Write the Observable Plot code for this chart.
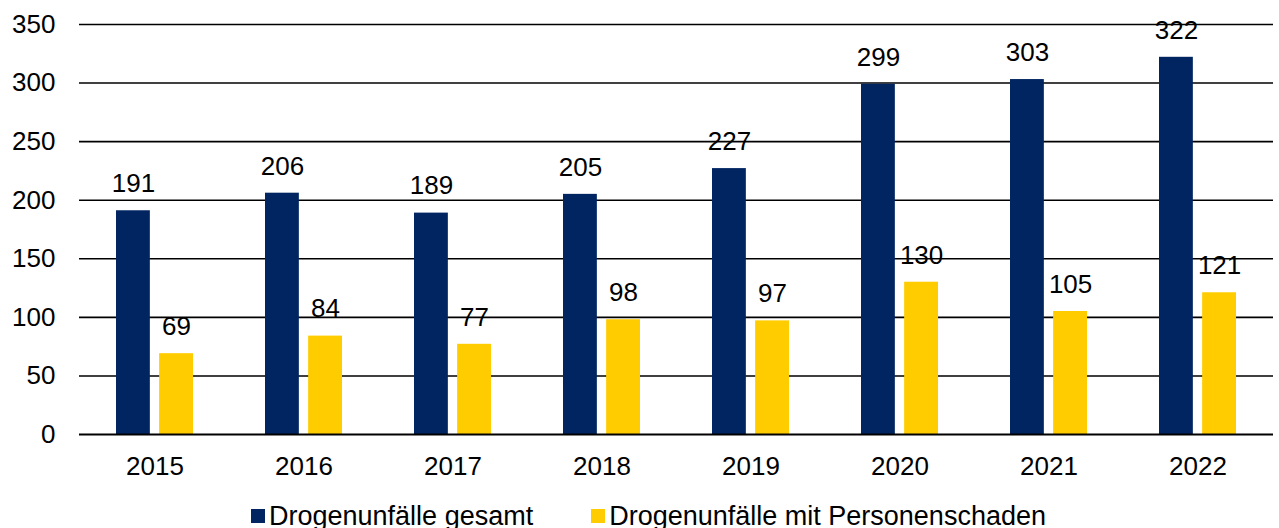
<!DOCTYPE html>
<html><head><meta charset="utf-8">
<script src="https://cdn.jsdelivr.net/npm/d3@7"></script>
<script src="https://cdn.jsdelivr.net/npm/@observablehq/plot@0.6"></script>
<style>
html,body{margin:0;padding:0;background:#fff;font-family:"Liberation Sans",Arial,sans-serif;}
#legend{display:flex;justify-content:center;align-items:center;height:36px;margin-top:6px;padding-left:18px;font-size:27px;color:#000;white-space:nowrap;}
.item{display:flex;align-items:center;margin:0 29px;}
.sw{width:14px;height:14px;margin-right:4px;}
</style></head><body><div id="chart"></div><div id="legend"></div>
<script>
const years = ["2015","2016","2017","2018","2019","2020","2021","2022"];
const gesamt = [191, 206, 189, 205, 227, 299, 303, 322];
const personenschaden = [69, 84, 77, 98, 97, 130, 105, 121];
const seriesNames = ["Drogenunfälle gesamt", "Drogenunfälle mit Personenschaden"];
const seriesColors = ["#002561", "#ffcc00"];
const yTicks = [0, 50, 100, 150, 200, 250, 300, 350];

const rowsG = years.map((y, i) => ({year: y, value: gesamt[i]}));
const rowsP = years.map((y, i) => ({year: y, value: personenschaden[i]}));

const W = 1279, mL = 79, mR = 6;
const step = (W - mL - mR) / years.length;
const band = step * 0.52;
const barW = band * 0.444;
const gap = band - 2 * barW;
const off = (barW + gap) / 2;

const chart = Plot.plot({
  width: W, height: 492,
  marginTop: 24, marginLeft: mL, marginRight: mR, marginBottom: 58,
  style: {fontFamily: "'Liberation Sans', Arial, sans-serif", fontSize: "26px", color: "#000", background: "#fff"},
  x: {domain: years, paddingInner: 0.48, paddingOuter: 0.24, label: null},
  y: {domain: [0, 350], label: null},
  marks: [
    Plot.ruleY(yTicks.filter(t => t > 0), {stroke: "#000", strokeWidth: 1.6, strokeOpacity: 1}),
    Plot.barY(rowsG, {x: "year", y: "value", fill: seriesColors[0], insetRight: band - barW}),
    Plot.barY(rowsP, {x: "year", y: "value", fill: seriesColors[1], insetLeft: band - barW}),
    Plot.ruleY([0], {stroke: "#000", strokeWidth: 2}),
    Plot.text(rowsG, {x: "year", y: "value", text: d => String(d.value), dx: -off, dy: -27, fill: "#000", fontSize: 26}),
    Plot.text(rowsP, {x: "year", y: "value", text: d => String(d.value), dx: off, dy: -27, fill: "#000", fontSize: 26}),
    Plot.axisY({ticks: yTicks, tickSize: 0, tickPadding: 24, label: null, fontSize: 26}),
    Plot.axisX({tickSize: 0, tickPadding: 22, label: null, fontSize: 26})
  ]
});
document.getElementById("chart").appendChild(chart);

const legend = document.getElementById("legend");
seriesNames.forEach((name, i) => {
  const item = document.createElement("div");
  item.className = "item";
  const sw = document.createElement("div");
  sw.className = "sw";
  sw.style.background = seriesColors[i];
  const label = document.createElement("span");
  label.textContent = name;
  item.appendChild(sw); item.appendChild(label);
  legend.appendChild(item);
});
</script></body></html>
